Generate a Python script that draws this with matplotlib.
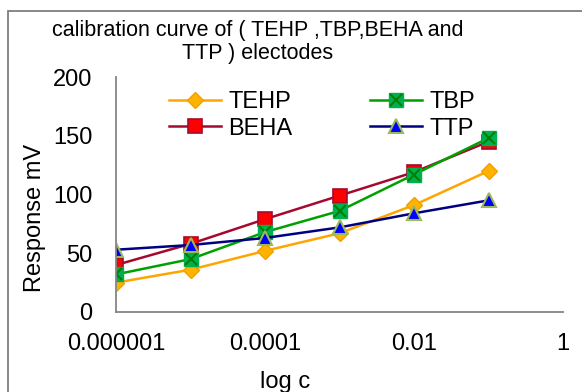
import numpy as np
import matplotlib
matplotlib.use("Agg")
import matplotlib.pyplot as plt
from matplotlib.patches import Rectangle
from matplotlib.legend_handler import HandlerTuple

plt.rcParams["font.family"] = ["Liberation Sans", "DejaVu Sans"]

# concentrations (mol/L) and electrode responses (mV)
conc = [1e-6, 1e-5, 1e-4, 1e-3, 1e-2, 1e-1]
tehp = [25, 36, 52, 67, 91, 120]
tbp = [32, 45, 68, 86, 117, 148]
beha = [40, 58, 79, 99, 119, 145]
ttp = [53, 57, 63, 72, 84, 95]

xtick_vals = [1e-6, 1e-4, 1e-2, 1]
xtick_labels = ["0.000001", "0.0001", "0.01", "1"]

W, H = 582, 392
fig = plt.figure(figsize=(W / 100, H / 100), dpi=100)
ax = fig.add_axes([116 / W, 1 - 312 / H, (563 - 116) / W, (312 - 77) / H])

# outer chart-area frame (runs off the right and bottom edges)
fig.patches.append(Rectangle((8 / W, -0.1), 1.2, (H - 11) / H + 0.1,
                             transform=fig.transFigure, fill=False,
                             edgecolor="#7f7f7f", linewidth=1.3))

l_tehp, = ax.plot(conc, tehp, color="#FFA500", lw=1.8, marker="D", ms=8,
                  mfc="#FFB300", mec="#F0A000", label="TEHP")
l_beha, = ax.plot(conc, beha, color="#A50A2E", lw=1.8, marker="s", ms=10,
                  mfc="#FF0000", mec="#A50A2E", mew=1.2, label="BEHA")
l_tbp, = ax.plot(conc, tbp, color="#00A000", lw=1.8, marker="s", ms=10,
                 mfc="#00B050", mec="#00B050", label="TBP")
x_tbp, = ax.plot(conc, tbp, ls="none", marker="x", ms=8, mec="#008000", mew=1.5)
l_ttp, = ax.plot(conc, ttp, color="#000080", lw=1.8, marker="^", ms=10,
                 mfc="#0000FF", mec="#9BBB59", mew=1.5, label="TTP")

ax.set_xscale("log")
ax.set_xlim(1e-6, 1)
ax.set_ylim(0, 200)
ax.set_xticks(xtick_vals)
ax.set_xticklabels(xtick_labels)
ax.xaxis.set_minor_locator(matplotlib.ticker.NullLocator())
ax.set_yticks([0, 50, 100, 150, 200])

for s in ("top", "right"):
    ax.spines[s].set_visible(False)
for s in ("left", "bottom"):
    ax.spines[s].set_color("#868686")
    ax.spines[s].set_linewidth(1.3)
ax.tick_params(axis="both", length=0, labelsize=17)
ax.tick_params(axis="y", pad=17)
ax.tick_params(axis="x", pad=15)

fig.text(285 / W, 1 - 382 / H, "log c", fontsize=17, ha="center", va="center")
fig.text(35 / W, 1 - 218 / H, "Response mV", fontsize=17, rotation=90,
         ha="center", va="center")
fig.text(258 / W, 1 - 42 / H, "calibration curve of ( TEHP ,TBP,BEHA and\nTTP ) electodes",
         fontsize=15.5, ha="center", va="center", linespacing=1.1)

leg = ax.legend([l_tehp, l_beha, (l_tbp, x_tbp), l_ttp],
                ["TEHP", "BEHA", "TBP", "TTP"],
                handler_map={tuple: HandlerTuple(ndivide=1)},
                ncol=2, frameon=False, fontsize=17,
                loc="upper left", bbox_to_anchor=(169 / W, 1 - 91 / H),
                bbox_transform=fig.transFigure,
                borderpad=0, borderaxespad=0, handlelength=2.2,
                handletextpad=0.3, columnspacing=3.3, labelspacing=0.2)

fig.savefig("out.png", dpi=100)
